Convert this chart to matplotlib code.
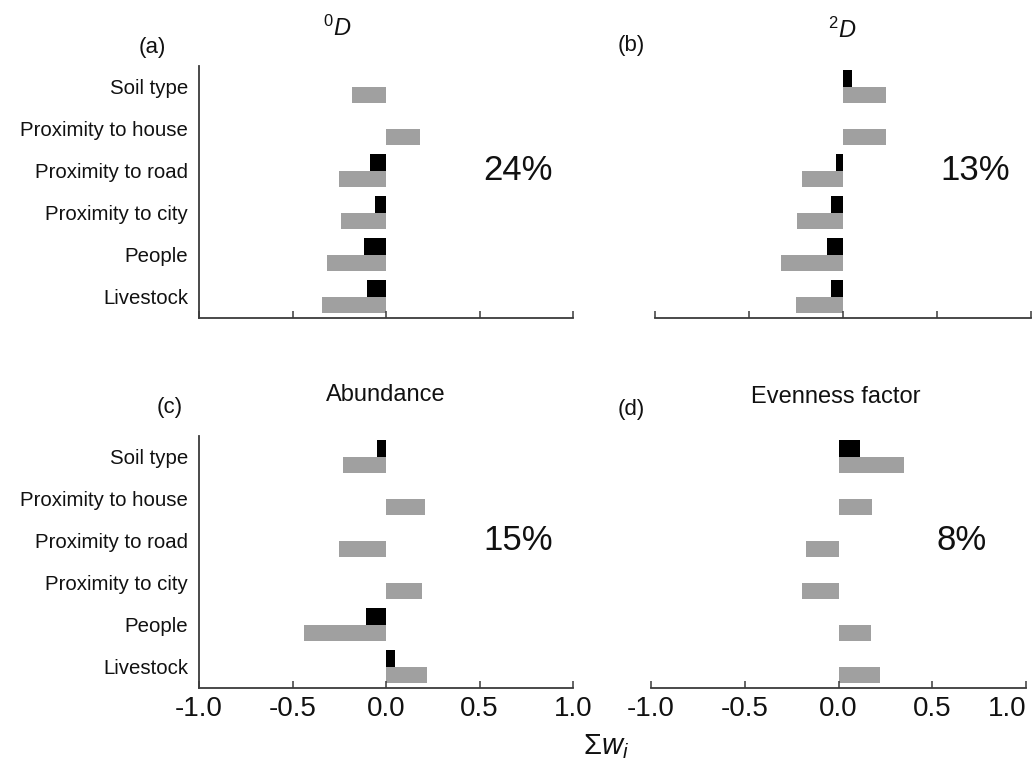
import matplotlib
matplotlib.use("Agg")
import matplotlib.pyplot as plt
import numpy as np

plt.rcParams['font.family'] = ['Liberation Sans', 'DejaVu Sans']
plt.rcParams['mathtext.fontset'] = 'custom'
plt.rcParams['mathtext.rm'] = 'Liberation Sans'
plt.rcParams['mathtext.it'] = 'Liberation Sans:italic'

# Categories listed top to bottom
categories = ["Soil type", "Proximity to house", "Proximity to road",
              "Proximity to city", "People", "Livestock"]

a_grey = [-0.18, 0.18, -0.25, -0.24, -0.315, -0.34]
a_black = [0.0, 0.0, -0.083, -0.058, -0.117, -0.104]
b_grey = [0.23, 0.23, -0.22, -0.245, -0.33, -0.25]
b_black = [0.05, 0.0, -0.035, -0.063, -0.084, -0.065]
c_grey = [-0.23, 0.21, -0.25, 0.195, -0.44, 0.22]
c_black = [-0.046, 0.0, 0.0, 0.0, -0.109, 0.046]
d_grey = [0.35, 0.18, -0.176, -0.194, 0.173, 0.219]
d_black = [0.114, 0.0, 0.0, 0.0, 0.0, 0.0]

percents = ["24%", "13%", "15%", "8%"]
xticks = [-1.0, -0.5, 0.0, 0.5, 1.0]
xticklabels = ["-1.0", "-0.5", "0.0", "0.5", "1.0"]

W, H = 1034, 772
fig = plt.figure(figsize=(W / 100, H / 100), dpi=100)

def px_axes(left, top, right, bottom):
    return fig.add_axes([left / W, 1 - bottom / H, (right - left) / W, (bottom - top) / H])

ax_a = px_axes(199, 65.7, 573, 317.7)
ax_b = px_axes(655, 65.7, 1031, 317.7)
ax_c = px_axes(199, 435.7, 573, 687.7)
ax_d = px_axes(651, 435.7, 1026, 687.7)

panels = [(ax_a, a_grey, a_black, percents[0], True, False),
          (ax_b, b_grey, b_black, percents[1], False, False),
          (ax_c, c_grey, c_black, percents[2], True, True),
          (ax_d, d_grey, d_black, percents[3], False, True)]

n = len(categories)
ypos = np.arange(n)[::-1]  # top category at highest y
h = 0.39
grey = '#a0a0a0'
axis_col = '#3a3a3a'

for ax, gv, bv, pct, show_y, show_x in panels:
    ax.barh(ypos - h / 2, gv, height=h, color=grey, linewidth=0)
    ax.barh(ypos + h / 2, bv, height=h, color='black', linewidth=0)
    ax.set_xlim(-1.0, 1.0)
    ax.set_ylim(-0.5, 5.5)
    ax.set_xticks(xticks)
    ax.tick_params(axis='x', direction='in', length=5, width=1.1, color=axis_col,
                   labelsize=20, pad=6, labelcolor='#111111')
    if show_x:
        ax.set_xticklabels(xticklabels)
    else:
        ax.set_xticklabels([])
    for s in ['top', 'right']:
        ax.spines[s].set_visible(False)
    ax.spines['bottom'].set_color(axis_col)
    ax.spines['bottom'].set_linewidth(1.3)
    if show_y:
        ax.spines['left'].set_color(axis_col)
        ax.spines['left'].set_linewidth(1.3)
        ax.set_yticks(ypos)
        ax.set_yticklabels(categories)
        ax.tick_params(axis='y', length=0, labelsize=14.7, pad=8, labelcolor='#111111')
    else:
        ax.spines['left'].set_visible(False)
        ax.set_yticks([])
    ax.text(0.52, 3, pct, fontsize=25, ha='left', va='center', color='#111111')

# last tick label of panel (d) sits flush with the figure's right edge
ax_d.get_xticklabels()[-1].set_horizontalalignment('right')

def ftext(x, y, s, **kw):
    fig.text(x / W, 1 - y / H, s, ha='center', va='center', color='#111111', **kw)

ftext(337, 28, r'$^{\mathit{0}}D$', fontsize=17)
ftext(842, 30, r'$^{\mathit{2}}D$', fontsize=17)
ftext(386, 395, 'Abundance', fontsize=17)
ftext(836, 397, 'Evenness factor', fontsize=17)
ftext(152, 47, '(a)', fontsize=16)
ftext(631, 45, '(b)', fontsize=16)
ftext(170, 408, '(c)', fontsize=16)
ftext(631, 409, '(d)', fontsize=16)
ftext(606, 747, r'$\Sigma w_i$', fontsize=21)

fig.savefig('out.png', dpi=100)
